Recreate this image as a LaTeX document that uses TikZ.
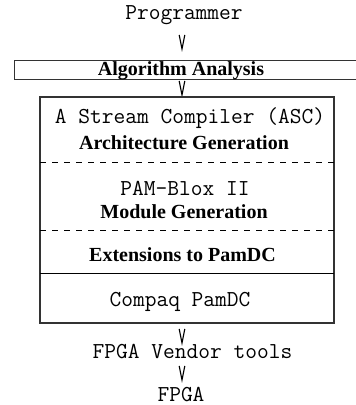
\documentclass[tikz,border=0pt]{standalone}
\usepackage{fontspec}
\setmainfont{Liberation Serif}
\begin{document}
\begin{tikzpicture}[x=0.5pt, y=-0.5pt,
  mono/.style={font=\fontsize{11.4}{13}\selectfont\ttfamily, inner sep=0pt, anchor=center},
  bold/.style={font=\fontsize{10}{12}\selectfont\bfseries, inner sep=0pt, anchor=center},
  frame/.style={draw=black!80, line width=0.6pt},
  divider/.style={draw=black, line width=0.5pt, dash pattern=on 3pt off 3pt},
  vmark/.style={draw=black, line width=0.55pt}]
\useasboundingbox (0,0) rectangle (355,405);

% a small open V between two stages
\newcommand{\vsign}[1]{\draw[vmark] (#1) ++(-2.8,-14) -- (#1) -- ++(2.8,-14);}

% top of the flow
\node[mono] (prog) at (184,15) {Programmer};
\coordinate (v1) at (182,49);
\vsign{v1}

% algorithm analysis strip
\draw[frame, line width=0.5pt] (14,61) rectangle (358,80);
\node[bold] (alg) at (181,70.5) {Algorithm Analysis};
\coordinate (v2) at (182,95);
\vsign{v2}

% compiler stack
\draw[frame] (40,97) rectangle (334,323);
\node[mono] (asc) at (190,118) {A Stream Compiler (ASC)};
\node[bold] (arch) at (184,143) {Architecture Generation};
\draw[divider] (40,163) -- (334,163);
\node[mono] (pam) at (185,188) {PAM-Blox II};
\node[bold] (mod) at (184,212) {Module Generation};
\draw[divider] (40,230) -- (334,230);
\node[bold] (ext) at (182.5,255) {Extensions to PamDC};
\draw[draw=black, line width=0.5pt] (40,273) -- (334,273);
\node[mono] (compaq) at (180,302) {Compaq PamDC};

% bottom of the flow
\coordinate (v3) at (182,343);
\vsign{v3}
\node[mono] (vendor) at (192.5,352) {FPGA Vendor tools};
\coordinate (v4) at (182,380);
\vsign{v4}
\node[mono] (fpga) at (181,395) {FPGA};
\end{tikzpicture}
\end{document}
